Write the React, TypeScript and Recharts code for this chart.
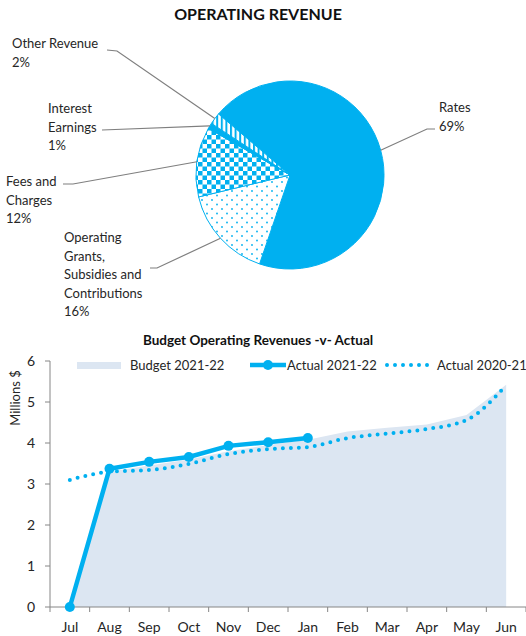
import { PieChart, Pie, Cell, ComposedChart, Area, Line, XAxis, YAxis } from 'recharts'

const BLUE = '#00B0F0'
const BUDGET_FILL = '#DCE6F2'
const TEXT = '#262626'
const AXIS = '#868686'
const FONT = 'Lato, "Open Sans", sans-serif'

// pie data (clockwise from the Rates slice)
const revenueNames = [
  'Rates',
  'Operating Grants, Subsidies and Contributions',
  'Fees and Charges',
  'Interest Earnings',
  'Other Revenue',
]
const revenueShares = [69, 16, 12, 1, 2]
const revenueLabelLines = [
  ['Rates', '69%'],
  ['Operating', 'Grants,', 'Subsidies and', 'Contributions', '16%'],
  ['Fees and', 'Charges', '12%'],
  ['Interest', 'Earnings', '1%'],
  ['Other Revenue', '2%'],
]

// line chart data, millions $
const months = ['Jul', 'Aug', 'Sep', 'Oct', 'Nov', 'Dec', 'Jan', 'Feb', 'Mar', 'Apr', 'May', 'Jun']
const budget2122 = [0, 3.3, 3.45, 3.6, 3.8, 3.95, 4.08, 4.28, 4.37, 4.45, 4.68, 5.42]
const actual2122 = [0, 3.37, 3.54, 3.66, 3.93, 4.02, 4.12, null, null, null, null, null]
const actual2021 = [3.1, 3.3, 3.34, 3.49, 3.73, 3.85, 3.9, 4.12, 4.23, 4.34, 4.56, 5.41]
const yTicks = [0, 1, 2, 3, 4, 5, 6]
const legendNames = ['Budget 2021-22', 'Actual 2021-22', 'Actual 2020-21']

const pieData = revenueNames.map((name, i) => ({ name, value: revenueShares[i] }))
const lineData = months.map((month, i) => ({
  month,
  budget: budget2122[i],
  actual: actual2122[i],
  prior: actual2021[i],
}))

const sliceFills = [BLUE, 'url(#dots)', 'url(#checks)', BLUE, 'url(#stripes)']

// where each pie label sits and the elbow of its leader line
const labelPlacement = [
  { x: 439, y: 107, elbow: [[435, 129], [427, 129]] },
  { x: 64, y: 237, elbow: [[150, 268], [157, 268]] },
  { x: 6, y: 181, elbow: [[63, 184], [73, 184]] },
  { x: 48, y: 108, elbow: [[102, 130]] },
  { x: 12, y: 43, elbow: [[107, 50], [117, 51]] },
]

const RADIAN = Math.PI / 180
const PLOT_LEFT = 50
const PLOT_WIDTH = 476
const BAND = PLOT_WIDTH / months.length

function renderSliceLabel(props: any) {
  const { cx, cy, midAngle, outerRadius, index } = props
  const place = labelPlacement[index]
  const ax = cx + outerRadius * Math.cos(-midAngle * RADIAN)
  const ay = cy + outerRadius * Math.sin(-midAngle * RADIAN)
  const pts = [...place.elbow, [ax, ay]]
  return (
    <g key={`lbl-${index}`}>
      <polyline
        points={pts.map(p => p.join(',')).join(' ')}
        fill="none"
        stroke="#7f7f7f"
        strokeWidth={1.2}
      />
      <text fontFamily={FONT} fontSize={13} fill={TEXT} dominantBaseline="central">
        {revenueLabelLines[index].map((t, i) => (
          <tspan key={i} x={place.x} y={place.y + i * 18.6}>
            {t}
          </tspan>
        ))}
      </text>
    </g>
  )
}

function MonthTick(props: any) {
  const { x, y, payload, index } = props
  const left = x - BAND / 2
  return (
    <g>
      <line x1={left} y1={y - 5} x2={left} y2={y} stroke={AXIS} />
      {index === months.length - 1 && (
        <line x1={left + BAND} y1={y - 5} x2={left + BAND} y2={y} stroke={AXIS} />
      )}
      <text x={x} y={y + 14} textAnchor="middle" dominantBaseline="central" fontFamily={FONT} fontSize={14} fill={TEXT}>
        {payload.value}
      </text>
    </g>
  )
}

export default function App() {
  return (
    <div style={{ position: 'absolute', left: 0, top: 0, width: 526, height: 636, background: '#fff' }}>
      <div style={{ position: 'absolute', left: 0, top: 0 }}>
        <PieChart width={526} height={320}>
          <defs>
            <pattern id="stripes" width="4.6" height="4" patternUnits="userSpaceOnUse">
              <rect width="4.6" height="4" fill="#fff" />
              <rect width="2" height="4" fill={BLUE} />
            </pattern>
            <pattern id="checks" width="9" height="9" patternUnits="userSpaceOnUse">
              <rect width="9" height="9" fill="#fff" />
              <rect width="4.5" height="4.5" fill={BLUE} />
              <rect x="4.5" y="4.5" width="4.5" height="4.5" fill={BLUE} />
            </pattern>
            <pattern id="dots" width="10" height="9" patternUnits="userSpaceOnUse">
              <rect width="10" height="9" fill="#fff" />
              <circle cx="2" cy="2" r="0.9" fill={BLUE} />
              <circle cx="7" cy="6.5" r="0.9" fill={BLUE} />
            </pattern>
          </defs>
          <Pie
            data={pieData}
            dataKey="value"
            nameKey="name"
            cx={285}
            cy={170}
            outerRadius={94}
            startAngle={139.5}
            endAngle={139.5 - 360}
            stroke={BLUE}
            strokeWidth={1}
            label={renderSliceLabel}
            labelLine={false}
            isAnimationActive={false}
          >
            {pieData.map((d, i) => (
              <Cell key={d.name} fill={sliceFills[i]} />
            ))}
          </Pie>
        </PieChart>
      </div>

      <div style={{ position: 'absolute', left: 0, top: 320 }}>
        <ComposedChart width={526} height={316} data={lineData} margin={{ top: 41, right: 0, bottom: 0, left: 0 }}>
          <XAxis
            dataKey="month"
            height={29}
            interval={0}
            padding={{ left: BAND / 2, right: BAND / 2 }}
            axisLine={{ stroke: AXIS }}
            tickLine={{ stroke: 'none' }}
            tickSize={5}
            tickMargin={0}
            tick={<MonthTick />}
          />
          <YAxis
            width={PLOT_LEFT}
            domain={[0, 6]}
            ticks={yTicks}
            interval={0}
            axisLine={{ stroke: AXIS }}
            tickLine={{ stroke: AXIS }}
            tickSize={5}
            tickMargin={10}
            tick={{ fill: TEXT, fontSize: 14, fontFamily: FONT }}
          />
          <Area
            type="linear"
            dataKey="budget"
            stroke="none"
            fill={BUDGET_FILL}
            fillOpacity={1}
            isAnimationActive={false}
          />
          <Line
            type="monotone"
            dataKey="prior"
            stroke={BLUE}
            strokeWidth={4}
            strokeDasharray="0 8"
            strokeLinecap="round"
            dot={false}
            isAnimationActive={false}
          />
          <Line
            type="linear"
            dataKey="actual"
            stroke={BLUE}
            strokeWidth={4.5}
            dot={{ r: 5, fill: BLUE, stroke: BLUE, strokeWidth: 0 }}
            connectNulls={false}
            isAnimationActive={false}
          />
        </ComposedChart>
      </div>

      <svg
        width={526}
        height={636}
        style={{ position: 'absolute', left: 0, top: 0, pointerEvents: 'none' }}
        fontFamily={FONT}
      >
        <text x={258} y={13} textAnchor="middle" dominantBaseline="central" fontSize={16} fontWeight={700} fill="#111">
          OPERATING REVENUE
        </text>
        <text x={258} y={340} textAnchor="middle" dominantBaseline="central" fontSize={13.5} fontWeight={700} fill="#111">
          Budget Operating Revenues -v- Actual
        </text>

        {/* legend */}
        <rect x={77} y={362} width={44} height={7} fill={BUDGET_FILL} />
        <text x={130} y={365} dominantBaseline="central" fontSize={13} fill={TEXT}>
          {legendNames[0]}
        </text>
        <line x1={250} y1={365} x2={286} y2={365} stroke={BLUE} strokeWidth={4.5} />
        <circle cx={268} cy={365} r={5} fill={BLUE} />
        <text x={287} y={365} dominantBaseline="central" fontSize={13} fill={TEXT}>
          {legendNames[1]}
        </text>
        <line
          x1={387}
          y1={365}
          x2={430}
          y2={365}
          stroke={BLUE}
          strokeWidth={4}
          strokeDasharray="0 8"
          strokeLinecap="round"
        />
        <text x={437} y={365} dominantBaseline="central" fontSize={13} fill={TEXT}>
          {legendNames[2]}
        </text>

        <text
          x={15}
          y={398}
          transform="rotate(-90 15 398)"
          textAnchor="middle"
          dominantBaseline="central"
          fontSize={13}
          fill={TEXT}
        >
          Millions $
        </text>
      </svg>
    </div>
  )
}
